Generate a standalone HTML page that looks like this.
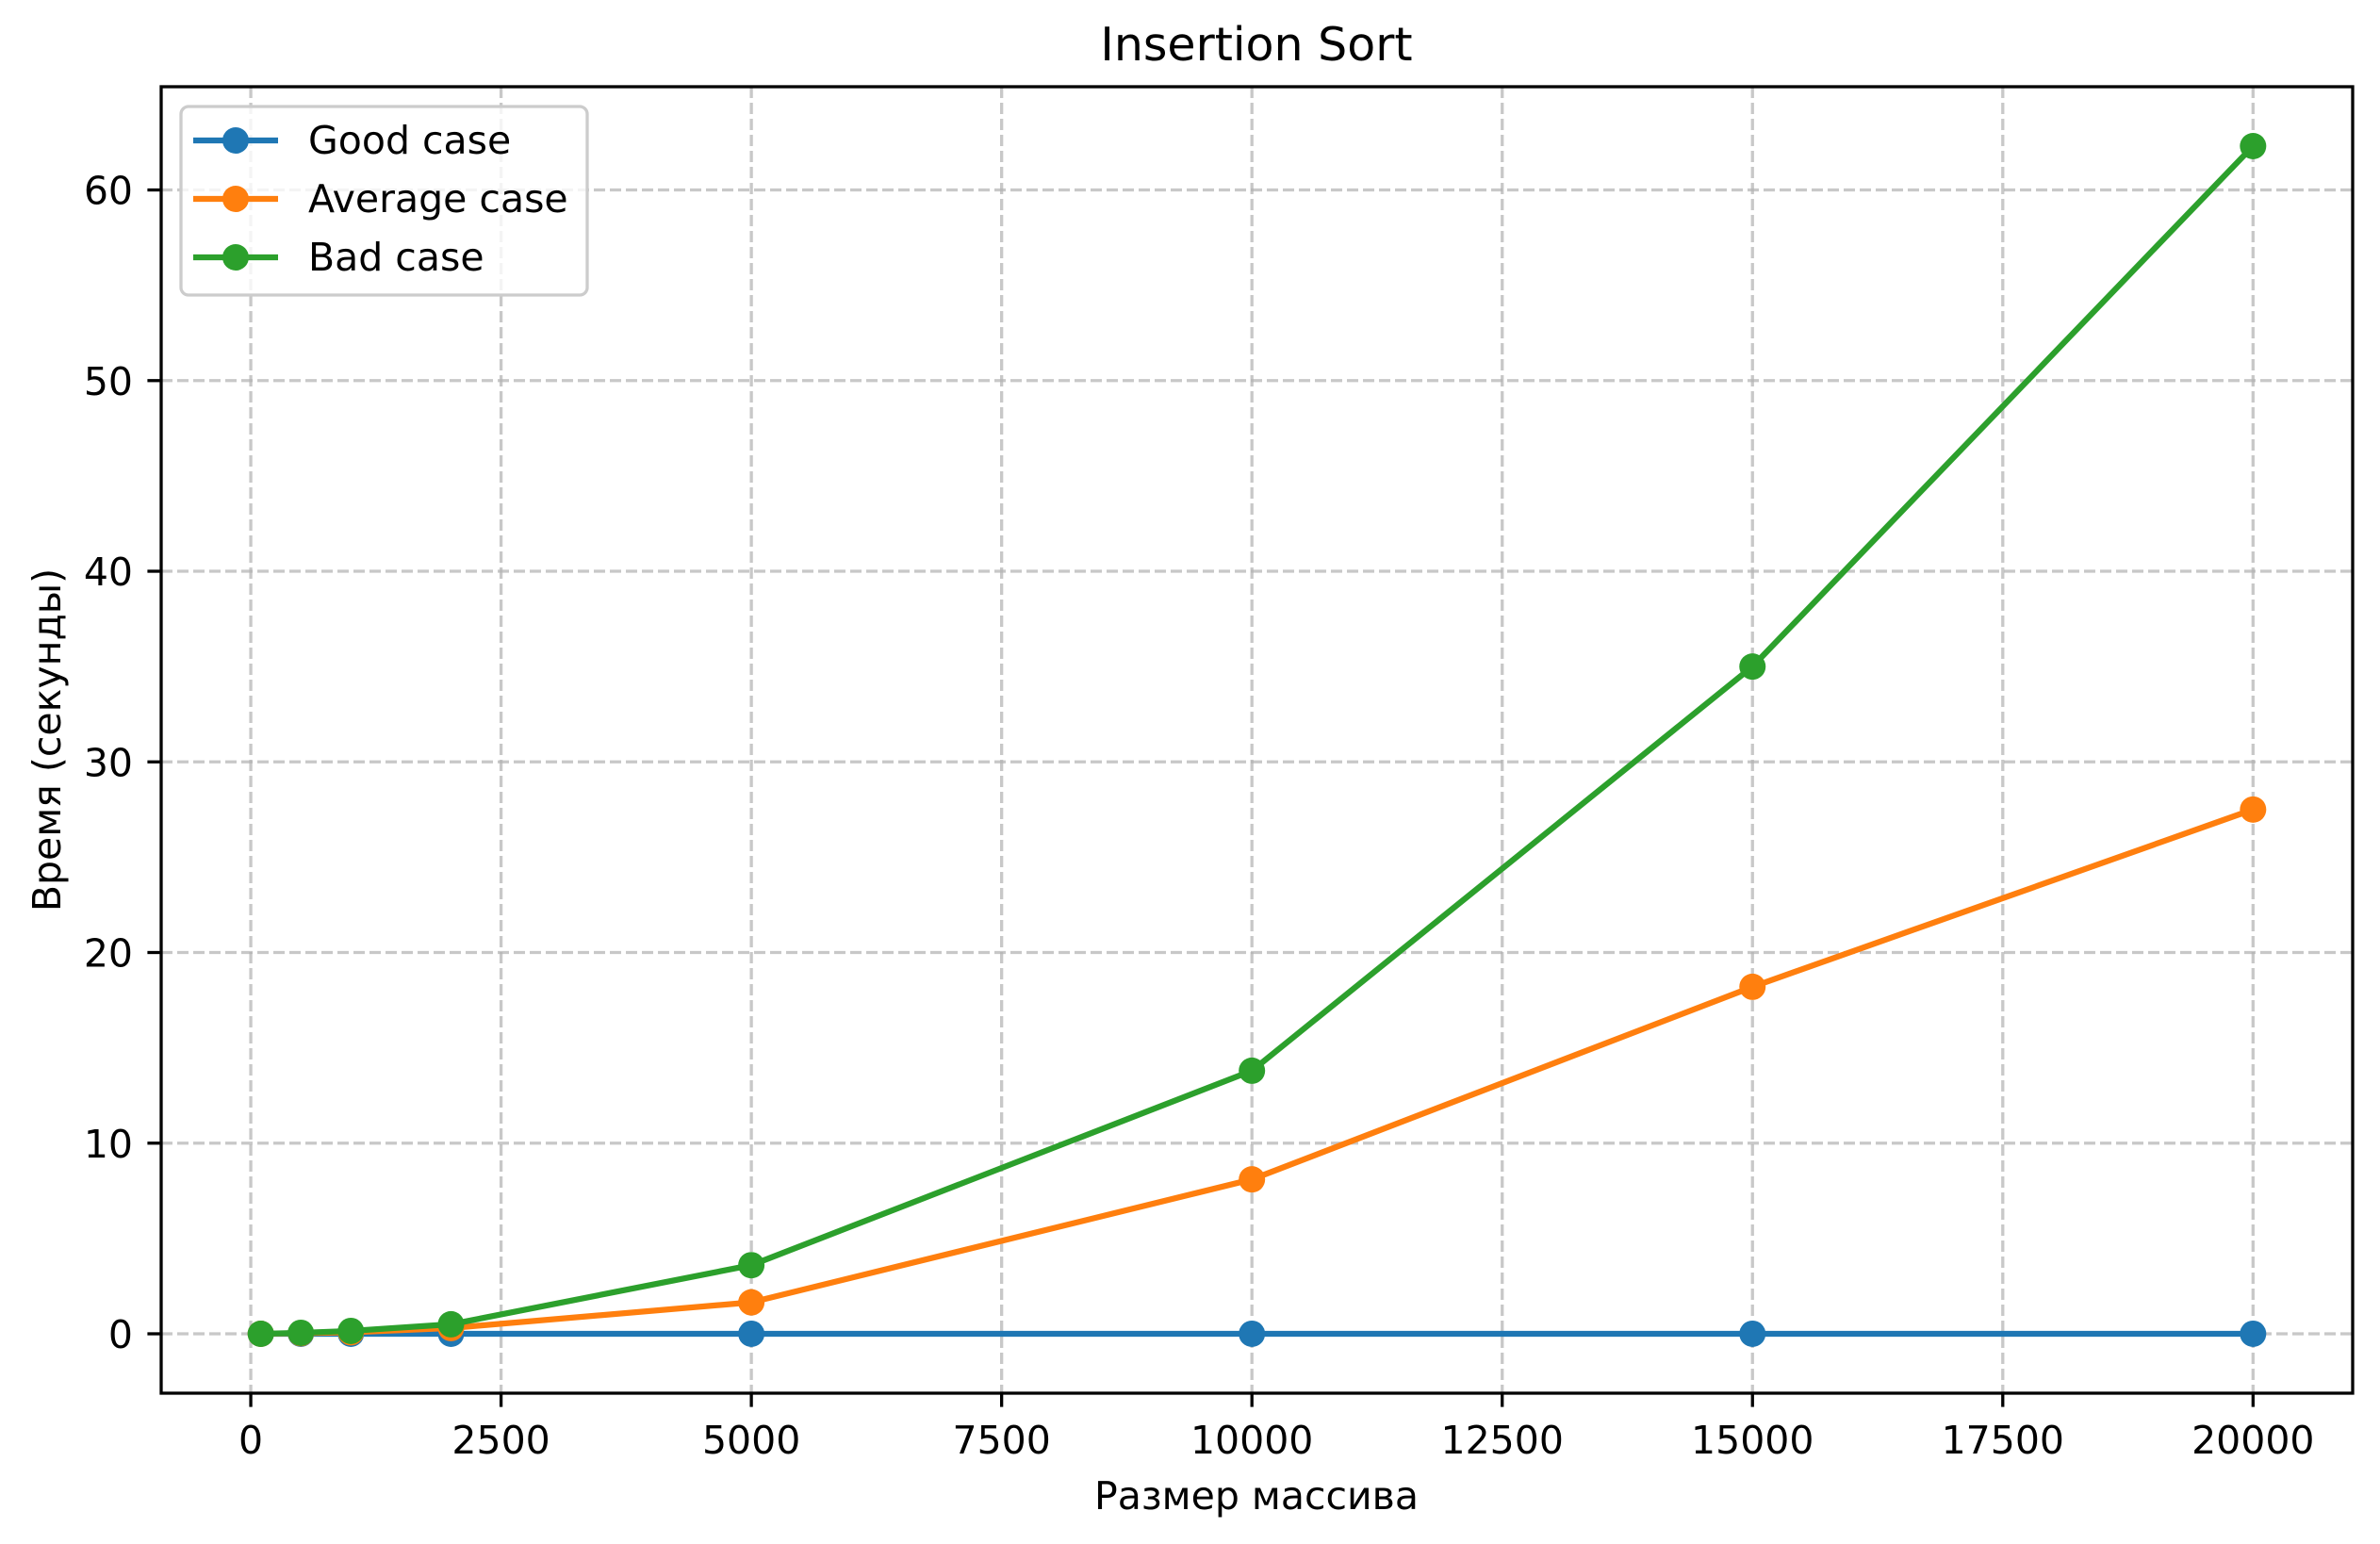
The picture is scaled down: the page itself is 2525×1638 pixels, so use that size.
<!DOCTYPE html>
<html><head><meta charset="utf-8">
<style>
html,body{margin:0;padding:0;background:#fff;}
svg{display:block;}
text{font-family:"DejaVu Sans","Liberation Sans",sans-serif;fill:#000;}
</style></head>
<body>
<svg id="chart" width="2525" height="1638" viewBox="0 0 2525 1638" xmlns="http://www.w3.org/2000/svg">
<rect width="2525" height="1638" fill="#fff"/>
<g id="grid"></g>
<g id="series"></g>
<rect x="171" y="92" width="2325" height="1386" fill="none" stroke="#000" stroke-width="3.3"/>
<g id="ticks"></g>
<text x="1333" y="64" font-size="49" text-anchor="middle">Insertion Sort</text>
<text x="1333" y="1601" font-size="41" text-anchor="middle">Размер массива</text>
<text transform="translate(64,785) rotate(-90)" font-size="41" text-anchor="middle">Время (секунды)</text>
<g>
<rect x="192" y="113" width="431" height="200" rx="8" fill="#fff" fill-opacity="0.8" stroke="#ccc" stroke-width="3.3"/>
<g>
<line x1="205" y1="149" x2="295" y2="149" stroke="#1f77b4" stroke-width="6.25"/>
<circle cx="250" cy="149" r="14" fill="#1f77b4"/>
<text x="327" y="163" font-size="41">Good case</text></g>
<g>
<line x1="205" y1="211" x2="295" y2="211" stroke="#ff7f0e" stroke-width="6.25"/>
<circle cx="250" cy="211" r="14" fill="#ff7f0e"/>
<text x="327" y="225" font-size="41">Average case</text></g>
<g>
<line x1="205" y1="273" x2="295" y2="273" stroke="#2ca02c" stroke-width="6.25"/>
<circle cx="250" cy="273" r="14" fill="#2ca02c"/>
<text x="327" y="287" font-size="41">Bad case</text></g>
</g>
</svg>
<script>
const sizes = [100, 500, 1000, 2000, 5000, 10000, 15000, 20000];
const goodCase = [0.0, 0.0, 0.001, 0.001, 0.001, 0.001, 0.001, 0.001];
const averageCase = [0.0, 0.03, 0.08, 0.3, 1.65, 8.1, 18.2, 27.5];
const badCase = [0.0, 0.05, 0.15, 0.5, 3.6, 13.8, 35.0, 62.3];
const xTicks = [0, 2500, 5000, 7500, 10000, 12500, 15000, 17500, 20000];
const yTicks = [0, 10, 20, 30, 40, 50, 60];

const NS = "http://www.w3.org/2000/svg";
const L = 171, R = 2496, T = 92, B = 1478;
const xMin = -895, xMax = 20995;
const yMin = -3.115, yMax = 65.415;
function sx(v){ return L + (v - xMin) / (xMax - xMin) * (R - L); }
function sy(v){ return B - (v - yMin) / (yMax - yMin) * (B - T); }
function mk(tag, attrs, parent){
  const e = document.createElementNS(NS, tag);
  for (const k in attrs) e.setAttribute(k, attrs[k]);
  parent.appendChild(e);
  return e;
}
const grid = document.getElementById('grid');
const ticks = document.getElementById('ticks');
xTicks.forEach(function(t){
  const x = sx(t);
  const g = mk('line', {x1:x, x2:x, y1:T, y2:B, stroke:'#b0b0b0', 'stroke-opacity':0.7, 'stroke-width':3.3, 'stroke-dasharray':'12 5'}, grid);
  
  
  const tk = mk('line', {x1:x, x2:x, y1:B, y2:B+14.6, stroke:'#000', 'stroke-width':3.3}, ticks);
  
  
  const lb = mk('text', {x:x, y:1542, 'font-size':41, 'text-anchor':'middle'}, ticks);
  lb.textContent = String(t);
  
  
});
yTicks.forEach(function(t){
  const y = sy(t);
  const g = mk('line', {x1:L, x2:R, y1:y, y2:y, stroke:'#b0b0b0', 'stroke-opacity':0.7, 'stroke-width':3.3, 'stroke-dasharray':'12 5'}, grid);
  
  
  const tk = mk('line', {x1:L-14.6, x2:L, y1:y, y2:y, stroke:'#000', 'stroke-width':3.3}, ticks);
  
  
  const lb = mk('text', {x:141, y:y+15, 'font-size':41, 'text-anchor':'end'}, ticks);
  lb.textContent = String(t);
  
  
});
const seriesLayer = document.getElementById('series');
function drawSeries(vals, color, name){
  const g = mk('g', {}, seriesLayer);
  
  
  const pts = sizes.map(function(s, i){ return sx(s).toFixed(1) + ',' + sy(vals[i]).toFixed(1); }).join(' ');
  const pl = mk('polyline', {points:pts, fill:'none', stroke:color, 'stroke-width':6.25, 'stroke-linejoin':'round', 'stroke-linecap':'square'}, g);
  
  
  sizes.forEach(function(s, i){
    const c = mk('circle', {cx:sx(s), cy:sy(vals[i]), r:14, fill:color}, g);
    
    
  });
}
drawSeries(goodCase, '#1f77b4', 'good-case-series');
drawSeries(averageCase, '#ff7f0e', 'average-case-series');
drawSeries(badCase, '#2ca02c', 'bad-case-series');
</script>
</body></html>
